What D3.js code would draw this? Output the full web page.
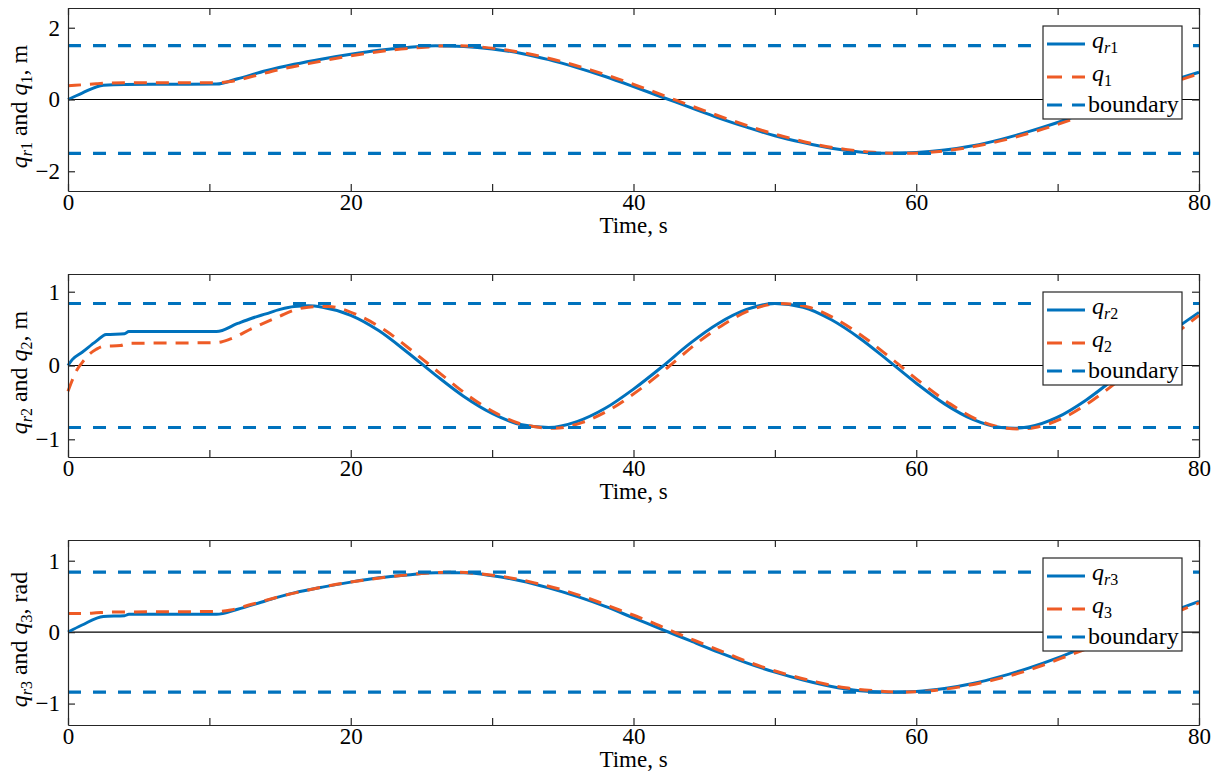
<!DOCTYPE html>
<html>
<head>
<meta charset="utf-8">
<script src="https://cdn.jsdelivr.net/npm/d3@7"></script>
<style>
    body { margin: 0; background: #fff; }
    text { font-family: "Liberation Serif", "Times New Roman", serif; fill: #000; }
</style>
</head>
<body>
<svg id="chart" width="1217" height="774"></svg>
<script>
// reference signals q_r (solid) and outputs q (dashed)
var tR1 = [0, 1, 2.5, 4, 10.5, 12, 14, 16, 18, 20, 22, 24, 26, 28, 30, 32, 34, 36, 38, 40, 42, 44, 46, 48, 50, 52, 54, 56, 58, 60, 62, 64, 66, 68, 70, 72, 74, 76, 78, 80];
var qR1 = [0, 0.18, 0.4, 0.42, 0.43, 0.58, 0.8, 0.98, 1.13, 1.26, 1.37, 1.45, 1.5, 1.48, 1.41, 1.29, 1.11, 0.89, 0.64, 0.36, 0.07, -0.22, -0.51, -0.77, -1.01, -1.2, -1.36, -1.46, -1.5, -1.48, -1.41, -1.29, -1.11, -0.89, -0.64, -0.36, -0.07, 0.22, 0.51, 0.76];
var tQ1 = [0, 1, 2, 3, 6, 10.5, 11.5, 13, 15, 17, 19, 21, 23, 25, 27, 29, 31, 33, 35, 37, 39, 41, 43, 45, 47, 49, 51, 53, 55, 57, 59, 61, 63, 65, 67, 69, 71, 73, 75, 77, 79, 80];
var q1 = [0.38, 0.41, 0.44, 0.46, 0.47, 0.47, 0.5, 0.64, 0.84, 1.0, 1.15, 1.28, 1.38, 1.45, 1.5, 1.47, 1.38, 1.24, 1.05, 0.82, 0.56, 0.28, -0.02, -0.31, -0.59, -0.85, -1.07, -1.26, -1.39, -1.47, -1.5, -1.47, -1.38, -1.24, -1.05, -0.82, -0.56, -0.28, 0.02, 0.31, 0.59, 0.72];

var tR2 = [0, 0.3, 1, 2, 2.7, 4, 4.3, 10.5, 12, 13, 14, 15, 16, 17, 18, 20, 22, 24, 26, 28, 30, 32, 34, 36, 38, 40, 42, 44, 46, 48, 50, 52, 54, 56, 58, 60, 62, 64, 66, 67, 68, 70, 72, 74, 76, 78, 80];
var qR2 = [0, 0.08, 0.18, 0.33, 0.42, 0.43, 0.46, 0.46, 0.57, 0.64, 0.7, 0.76, 0.8, 0.81, 0.79, 0.68, 0.47, 0.18, -0.13, -0.42, -0.65, -0.8, -0.84, -0.76, -0.58, -0.32, -0.02, 0.3, 0.57, 0.76, 0.84, 0.79, 0.62, 0.37, 0.07, -0.24, -0.52, -0.73, -0.84, -0.85, -0.83, -0.7, -0.47, -0.18, 0.14, 0.45, 0.72];
var tQ2 = [0, 0.3, 0.6, 1, 1.5, 2, 2.5, 3.7, 4.3, 10.5, 11.5, 13, 15, 16, 17, 18.4, 20.4, 22.4, 24.4, 26.4, 28.4, 30.4, 32.4, 34.4, 36.4, 38.4, 40.4, 42.4, 44.4, 46.4, 48.4, 50.4, 52.4, 54.4, 56.4, 58.4, 60.4, 62.4, 64.4, 66.4, 67.4, 68.4, 70.4, 72.4, 74.4, 76.4, 78.4, 80];
var q2 = [-0.35, -0.2, -0.07, 0.04, 0.15, 0.22, 0.26, 0.27, 0.3, 0.31, 0.36, 0.5, 0.67, 0.75, 0.79, 0.8, 0.69, 0.48, 0.19, -0.12, -0.42, -0.66, -0.81, -0.85, -0.77, -0.59, -0.33, -0.03, 0.29, 0.56, 0.76, 0.84, 0.79, 0.62, 0.37, 0.07, -0.24, -0.52, -0.74, -0.85, -0.86, -0.84, -0.71, -0.48, -0.19, 0.13, 0.44, 0.68];

var tR3 = [0, 1, 2.5, 4, 4.3, 10.5, 12, 14, 16, 18, 20, 22, 24, 26, 28, 30, 32, 34, 36, 38, 40, 42, 44, 46, 48, 50, 52, 54, 56, 58, 60, 62, 64, 66, 68, 70, 72, 74, 76, 78, 80];
var qR3 = [0, 0.1, 0.22, 0.23, 0.25, 0.25, 0.32, 0.44, 0.55, 0.63, 0.7, 0.76, 0.8, 0.83, 0.83, 0.79, 0.72, 0.62, 0.5, 0.36, 0.2, 0.04, -0.12, -0.28, -0.43, -0.56, -0.67, -0.76, -0.82, -0.84, -0.83, -0.79, -0.72, -0.62, -0.5, -0.36, -0.2, -0.04, 0.12, 0.28, 0.43];
var tQ3 = [0, 1, 2, 3, 10.5, 11.5, 13, 15, 17, 19, 21, 23, 25, 27, 29, 31, 33, 35, 37, 39, 41, 43, 45, 47, 49, 51, 53, 55, 57, 59, 61, 63, 65, 67, 69, 71, 73, 75, 77, 79, 80];
var q3 = [0.26, 0.26, 0.27, 0.28, 0.29, 0.31, 0.39, 0.5, 0.59, 0.67, 0.73, 0.78, 0.82, 0.84, 0.82, 0.77, 0.69, 0.59, 0.46, 0.31, 0.16, -0.01, -0.17, -0.33, -0.48, -0.6, -0.7, -0.78, -0.82, -0.84, -0.82, -0.77, -0.69, -0.59, -0.46, -0.31, -0.16, 0.01, 0.17, 0.33, 0.41];

var bounds = [1.5, 0.84, 0.84];
var yDomains = [[-2.55, 2.55], [-1.24, 1.24], [-1.3, 1.29]];
var yTicks = [[-2, 0, 2], [-1, 0, 1], [-1, 0, 1]];
var xTicks = [0, 10, 20, 30, 40, 50, 60, 70, 80];
var xLabels = [0, 20, 40, 60, 80];
var subs = ["1", "2", "3"];
var units = ["m", "m", "rad"];

var blue = "#0072BD", red = "#EE5B26", axisCol = "#262626";
var svg = d3.select("#chart");
var left = 68, right = 1199;
var panelBox = [[8, 191], [274, 457], [540, 725]];

var x = d3.scaleLinear().domain([0, 80]).range([left, right]);

function zipSeries(t, v) {
    return t.map(function (d, i) { return [d, v[i]]; });
}

function drawPanel(i, tr, qr, tq, q) {
    var top = panelBox[i][0], bottom = panelBox[i][1];
    var y = d3.scaleLinear().domain(yDomains[i]).range([bottom, top]);
    var g = svg.append("g");

    var line = d3.line()
        .x(function (d) { return x(d[0]); })
        .y(function (d) { return y(d[1]); })
        .curve(d3.curveMonotoneX);

    // zero line
    g.append("line")
        .attr("x1", x(0)).attr("x2", x(80))
        .attr("y1", y(0)).attr("y2", y(0))
        .attr("stroke", "#000").attr("stroke-width", 1.2);

    g.append("path").datum(zipSeries(tr, qr))
        .attr("d", line).attr("fill", "none")
        .attr("stroke", blue).attr("stroke-width", 3);

    g.append("path").datum(zipSeries(tq, q))
        .attr("d", line).attr("fill", "none")
        .attr("stroke", red).attr("stroke-width", 3)
        .attr("stroke-dasharray", "13,9");

    [bounds[i], -bounds[i]].forEach(function (b) {
        g.append("line")
            .attr("x1", x(0)).attr("x2", x(80))
            .attr("y1", y(b)).attr("y2", y(b))
            .attr("stroke", blue).attr("stroke-width", 3.2)
            .attr("stroke-dasharray", "13,12");
    });

    // axes box, ticks point inward
    var fmtX = function (d) { return xLabels.indexOf(d) >= 0 ? d : ""; };
    var axes = [
        g.append("g").attr("transform", "translate(0," + bottom + ")")
            .call(d3.axisBottom(x).tickValues(xTicks).tickSizeInner(-7).tickSizeOuter(0).tickPadding(3).tickFormat(fmtX)),
        g.append("g").attr("transform", "translate(0," + top + ")")
            .call(d3.axisTop(x).tickValues(xTicks).tickSizeInner(-7).tickSizeOuter(0).tickFormat("")),
        g.append("g").attr("transform", "translate(" + left + ",0)")
            .call(d3.axisLeft(y).tickValues(yTicks[i]).tickSizeInner(-7).tickSizeOuter(0).tickPadding(8).tickFormat(d3.format("d"))),
        g.append("g").attr("transform", "translate(" + right + ",0)")
            .call(d3.axisRight(y).tickValues(yTicks[i]).tickSizeInner(-7).tickSizeOuter(0).tickFormat(""))
    ];
    axes.forEach(function (a) {
        a.attr("font-size", null).attr("font-family", null);
        a.selectAll("path, line").attr("stroke", axisCol).attr("stroke-width", 1.2);
        a.selectAll("text").style("font-size", "23px").attr("fill", "#000");
    });

    g.append("text")
        .attr("x", (left + right) / 2).attr("y", bottom + 42)
        .attr("text-anchor", "middle").style("font-size", "23px")
        .text("Time, s");

    // y label: q_ri and q_i, unit
    var yl = g.append("text")
        .attr("transform", "translate(27," + ((top + bottom) / 2 + 7) + ") rotate(-90)")
        .attr("text-anchor", "middle").style("font-size", "24px");
    yl.append("tspan").style("font-style", "italic").text("q");
    yl.append("tspan").attr("dy", 5).style("font-size", "16px").style("font-style", "italic").text("r");
    yl.append("tspan").style("font-size", "16px").text(subs[i]);
    yl.append("tspan").attr("dy", -5).text(" and ");
    yl.append("tspan").style("font-style", "italic").text("q");
    yl.append("tspan").attr("dy", 5).style("font-size", "16px").text(subs[i]);
    yl.append("tspan").attr("dy", -5).text(", " + units[i]);

    // legend
    var lx = 1043, ly = top + 18;
    var leg = g.append("g");
    leg.append("rect").attr("x", lx).attr("y", ly).attr("width", 139).attr("height", 93)
        .attr("fill", "#fff").attr("stroke", axisCol).attr("stroke-width", 1.2);
    var rows = [18, 51, 79];
    var styles = [[blue, null], [red, "15,10"], [blue, "15,10"]];
    rows.forEach(function (r, k) {
        leg.append("line")
            .attr("x1", lx + 4).attr("x2", lx + 42)
            .attr("y1", ly + r).attr("y2", ly + r)
            .attr("stroke", styles[k][0]).attr("stroke-width", 3)
            .attr("stroke-dasharray", styles[k][1]);
    });
    var t1 = leg.append("text").attr("x", lx + 49).attr("y", ly + rows[0] + 4).style("font-size", "24px");
    t1.append("tspan").style("font-style", "italic").text("q");
    t1.append("tspan").attr("dy", 5).style("font-size", "16px").style("font-style", "italic").text("r");
    t1.append("tspan").style("font-size", "16px").text(subs[i]);
    var t2 = leg.append("text").attr("x", lx + 49).attr("y", ly + rows[1] + 4).style("font-size", "24px");
    t2.append("tspan").style("font-style", "italic").text("q");
    t2.append("tspan").attr("dy", 5).style("font-size", "16px").text(subs[i]);
    leg.append("text").attr("x", lx + 45).attr("y", ly + rows[2] + 7).style("font-size", "24px").text("boundary");
}

drawPanel(0, tR1, qR1, tQ1, q1);
drawPanel(1, tR2, qR2, tQ2, q2);
drawPanel(2, tR3, qR3, tQ3, q3);
</script>
</body>
</html>
